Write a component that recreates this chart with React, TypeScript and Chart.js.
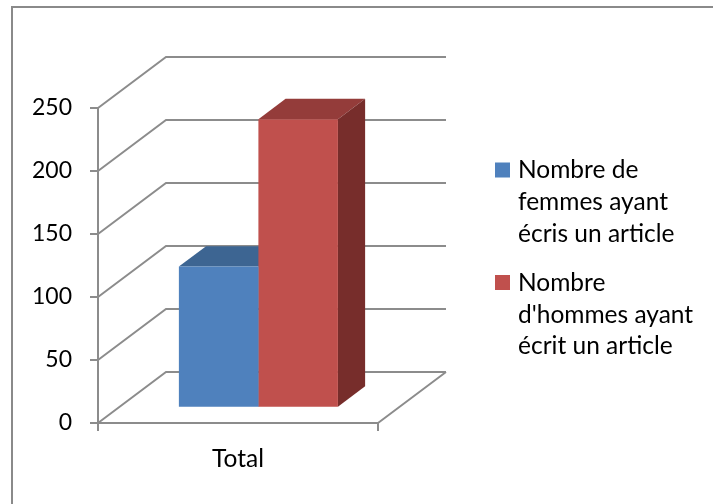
import React, { useEffect, useRef } from 'react';
import { Chart, registerables } from 'chart.js';

Chart.register(...registerables);

// ---- data ----
const categories = ['Total'];
const femmesLabel = ['Nombre de', 'femmes ayant', 'écris un article'];
const hommesLabel = ['Nombre', "d'hommes ayant", 'écrit un article'];
const femmesValues = [112];
const hommesValues = [229];
const yMin = 0;
const yMax = 250;
const yStep = 50;

// ---- styles ----
const FRONT = ['#4F81BD', '#C0504D'];
const TOP = ['#3D6592', '#943C3A'];
const SIDE = ['#365C87', '#772D2B'];
const GRID = '#8C8C8C';
const FRAME = '#8A8A8A';
const DX = 68;
const DY = -51;
const BAR_START = 0.3;
const BAR_DEPTH = 0.4;
const FONT = 'Lato';
const LEGEND_BOX_X = 495;
const LEGEND_TEXT_X = 518;
const LEGEND_FIRST_Y = [170.5, 283];
const LEGEND_LINE_H = 31.7;
const LEGEND_BOX = 15;
const LEGEND_FONT_SIZE = 24.5;

const threeD = {
  id: 'threeD',
  beforeDraw(chart: any) {
    const { ctx } = chart;
    ctx.save();
    ctx.strokeStyle = FRAME;
    ctx.lineWidth = 2;
    ctx.beginPath();
    ctx.moveTo(12, chart.height + 2);
    ctx.lineTo(12, 7);
    ctx.lineTo(chart.width + 2, 7);
    ctx.stroke();
    ctx.restore();
  },
  beforeDatasetsDraw(chart: any) {
    const { ctx, chartArea: a } = chart;
    const ys = chart.scales.y;
    ctx.save();
    ctx.strokeStyle = GRID;
    ctx.lineWidth = 2;
    ctx.beginPath();
    ys.ticks.forEach((t: any) => {
      const py = ys.getPixelForValue(t.value);
      ctx.moveTo(a.left, py);
      ctx.lineTo(a.left + DX, py + DY);
      ctx.lineTo(a.right + DX, py + DY);
    });
    ctx.moveTo(a.right, a.bottom);
    ctx.lineTo(a.right + DX, a.bottom + DY);
    ctx.stroke();

    const ox = DX * BAR_START;
    const oy = DY * BAR_START;
    const bx = DX * BAR_DEPTH;
    const by = DY * BAR_DEPTH;
    chart.data.datasets.forEach((_ds: any, i: number) => {
      const meta = chart.getDatasetMeta(i);
      meta.data.forEach((bar: any) => {
        const { x, y, base, width } = bar.getProps(['x', 'y', 'base', 'width'], true);
        const l = x - width / 2 + ox;
        const r = x + width / 2 + ox;
        const t = y + oy;
        const b = base + oy;
        ctx.fillStyle = TOP[i];
        ctx.beginPath();
        ctx.moveTo(l, t);
        ctx.lineTo(r, t);
        ctx.lineTo(r + bx, t + by);
        ctx.lineTo(l + bx, t + by);
        ctx.closePath();
        ctx.fill();
        ctx.fillStyle = SIDE[i];
        ctx.beginPath();
        ctx.moveTo(r, t);
        ctx.lineTo(r + bx, t + by);
        ctx.lineTo(r + bx, b + by);
        ctx.lineTo(r, b);
        ctx.closePath();
        ctx.fill();
      });
    });
    ctx.restore();
    ctx.save();
    ctx.translate(ox, oy);
  },
  afterDatasetsDraw(chart: any) {
    chart.ctx.restore();
  },
  afterDraw(chart: any) {
    const { ctx } = chart;
    const labelsList = [femmesLabel, hommesLabel];
    ctx.save();
    ctx.font = `${LEGEND_FONT_SIZE}px ${FONT}`;
    ctx.textBaseline = 'middle';
    ctx.textAlign = 'left';
    chart.data.datasets.forEach((ds: any, i: number) => {
      const y0 = LEGEND_FIRST_Y[i];
      ctx.fillStyle = ds.backgroundColor;
      ctx.fillRect(LEGEND_BOX_X, y0 - LEGEND_BOX / 2 - 0.5, LEGEND_BOX, LEGEND_BOX);
      ctx.fillStyle = '#000';
      labelsList[i].forEach((line, k) => {
        ctx.fillText(line, LEGEND_TEXT_X, y0 + k * LEGEND_LINE_H);
      });
    });
    ctx.restore();
  },
};

export default function App() {
  const ref = useRef<HTMLCanvasElement | null>(null);

  useEffect(() => {
    document.body.style.margin = '0';
    const canvas = ref.current;
    if (!canvas) return;
    const chart = new Chart(canvas, {
      type: 'bar',
      data: {
        labels: categories,
        datasets: [
          {
            label: femmesLabel.join(' '),
            data: femmesValues,
            backgroundColor: FRONT[0],
            borderWidth: 0,
            categoryPercentage: 0.568,
            barPercentage: 1,
            clip: false,
          } as any,
          {
            label: hommesLabel.join(' '),
            data: hommesValues,
            backgroundColor: FRONT[1],
            borderWidth: 0,
            categoryPercentage: 0.568,
            barPercentage: 1,
            clip: false,
          } as any,
        ],
      },
      options: {
        responsive: false,
        animation: false,
        events: [],
        devicePixelRatio: 1,
        layout: { padding: { top: 108, left: 0, right: 0, bottom: 0 } },
        plugins: {
          tooltip: { enabled: false },
          legend: { display: false },
        },
        scales: {
          x: {
            type: 'category',
            offset: true,
            grid: {
              display: true,
              drawOnChartArea: false,
              drawTicks: true,
              tickLength: 8,
              offset: true,
              color: GRID,
              lineWidth: 2,
            },
            border: { display: true, color: GRID, width: 2 },
            ticks: { color: '#000', font: { family: FONT, size: 24.5 }, padding: 13, maxRotation: 0 },
            afterFit: (s: any) => {
              s.height = 81;
            },
          },
          y: {
            type: 'linear',
            position: 'left',
            min: yMin,
            max: yMax,
            ticks: { stepSize: yStep, color: '#000', font: { family: FONT, size: 23 }, padding: 18 },
            grid: {
              display: true,
              drawOnChartArea: false,
              drawTicks: true,
              tickLength: 8,
              color: GRID,
              lineWidth: 2,
            },
            border: { display: true, color: GRID, width: 2 },
            afterFit: (s: any) => {
              s.width = 98;
            },
          },
          spacer: {
            type: 'linear',
            position: 'right',
            display: true,
            grid: { display: false },
            border: { display: false },
            ticks: { display: false },
            afterFit: (s: any) => {
              s.width = 335;
            },
          },
        },
      } as any,
      plugins: [threeD],
    });
    return () => chart.destroy();
  }, []);

  return (
    <div style={{ position: 'absolute', left: 0, top: 0, width: 713, height: 504, background: '#fff' }}>
      <canvas ref={ref} width={713} height={504} style={{ display: 'block', width: 713, height: 504 }} />
    </div>
  );
}
